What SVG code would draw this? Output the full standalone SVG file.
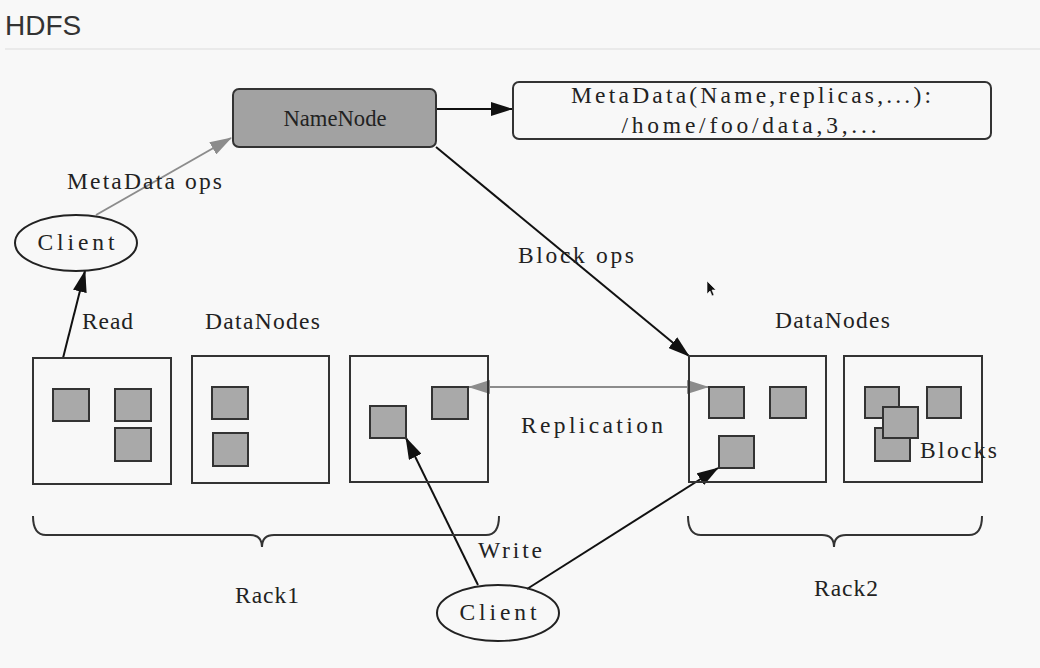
<svg xmlns="http://www.w3.org/2000/svg" width="1040" height="668" viewBox="0 0 1040 668">
<defs>
<style>
.t{font-family:"Liberation Serif","DejaVu Serif",serif;font-size:23.5px;fill:#222}
.tm{text-anchor:middle}
.box{fill:none;stroke:#333;stroke-width:2}
.blk{fill:#a9a9a9;stroke:#333;stroke-width:2}
.ln{fill:none;stroke:#111;stroke-width:2}
.lg{fill:none;stroke:#8c8c8c;stroke-width:2}
.br{fill:none;stroke:#333;stroke-width:2}
</style>
<marker id="ah" viewBox="0 0 22 14" refX="21" refY="7" markerWidth="22" markerHeight="14" orient="auto" markerUnits="userSpaceOnUse"><path d="M0,0 L22,7 L0,14 Z" fill="#111"/></marker>
<marker id="ag" viewBox="0 0 22 14" refX="21" refY="7" markerWidth="22" markerHeight="14" orient="auto-start-reverse" markerUnits="userSpaceOnUse"><path d="M0,0 L22,7 L0,14 Z" fill="#8c8c8c"/></marker>
</defs>
<rect width="1040" height="668" fill="#f8f8f8"/>
<text x="5" y="35" style="font-family:'Liberation Sans',Arial,sans-serif;font-size:28px;fill:#333">HDFS</text>
<line x1="5" y1="49" x2="1040" y2="49" stroke="#dcdcdc" stroke-width="1"/>

<g id="connectors">
<line class="ln" x1="436" y1="109" x2="512" y2="109" marker-end="url(#ah)"/>
<line class="lg" x1="96" y1="215" x2="231" y2="138" marker-end="url(#ag)"/>
<line class="ln" x1="436" y1="147" x2="689" y2="356" marker-end="url(#ah)"/>
<line class="ln" x1="63" y1="358" x2="85" y2="271" marker-end="url(#ah)"/>
<line class="lg" x1="469" y1="387" x2="708" y2="387" marker-start="url(#ag)" marker-end="url(#ag)"/>
<line class="ln" x1="478" y1="585" x2="406" y2="438" marker-end="url(#ah)"/>
<line class="ln" x1="527" y1="589" x2="718" y2="468" marker-end="url(#ah)"/>
</g>

<g id="namenode">
<rect x="233" y="89" width="203" height="58" rx="6" fill="#a2a2a2" stroke="#333" stroke-width="2"/>
<text class="t tm" x="335" y="126" textLength="103" lengthAdjust="spacingAndGlyphs">NameNode</text>
</g>

<g id="metadata">
<rect x="513" y="82" width="478" height="57" rx="6" fill="none" stroke="#333" stroke-width="2"/>
<text class="t tm" x="751" y="103" textLength="360" lengthAdjust="spacing">MetaData(Name,replicas,...):</text>
<text class="t tm" x="749" y="133" textLength="255" lengthAdjust="spacing">/home/foo/data,3,...</text>
</g>

<g id="client1">
<ellipse cx="76" cy="243" rx="61" ry="28" fill="none" stroke="#222" stroke-width="2"/>
<text class="t tm" x="76" y="250" textLength="77" lengthAdjust="spacing">Client</text>
</g>

<g id="client2">
<ellipse cx="498" cy="613" rx="61" ry="28" fill="none" stroke="#222" stroke-width="2"/>
<text class="t tm" x="498" y="620" textLength="77" lengthAdjust="spacing">Client</text>
</g>

<g id="datanode1">
<rect class="box" x="33" y="358" width="138" height="126"/>
<rect class="blk" x="53" y="389" width="36" height="32"/>
<rect class="blk" x="115" y="389" width="36" height="32"/>
<rect class="blk" x="115" y="428" width="36" height="33"/>
</g>
<g id="datanode2">
<rect class="box" x="192" y="356" width="137" height="127"/>
<rect class="blk" x="212" y="387" width="36" height="32"/>
<rect class="blk" x="213" y="433" width="35" height="33"/>
</g>
<g id="datanode3">
<rect class="box" x="350" y="356" width="138" height="126"/>
<rect class="blk" x="370" y="406" width="36" height="32"/>
<rect class="blk" x="432" y="387" width="36" height="32"/>
</g>
<g id="datanode4">
<rect class="box" x="689" y="356" width="137" height="126"/>
<rect class="blk" x="709" y="387" width="35" height="31"/>
<rect class="blk" x="770" y="387" width="36" height="31"/>
<rect class="blk" x="719" y="436" width="35" height="32"/>
</g>
<g id="datanode5">
<rect class="box" x="844" y="356" width="138" height="126"/>
<rect class="blk" x="865" y="387" width="34" height="31"/>
<rect class="blk" x="875" y="428" width="35" height="33"/>
<rect class="blk" x="883" y="407" width="35" height="31"/>
<rect class="blk" x="927" y="387" width="34" height="31"/>
</g>

<g id="labels">
<text class="t" x="67" y="189" textLength="155" lengthAdjust="spacing">MetaData ops</text>
<text class="t" x="518" y="263" textLength="116" lengthAdjust="spacing">Block ops</text>
<text class="t" x="82" y="329" textLength="51" lengthAdjust="spacing">Read</text>
<text class="t" x="205" y="329" textLength="115" lengthAdjust="spacing">DataNodes</text>
<text class="t" x="775" y="328" textLength="115" lengthAdjust="spacing">DataNodes</text>
<text class="t" x="521" y="433" textLength="142" lengthAdjust="spacing">Replication</text>
<text class="t" x="920" y="458" textLength="77" lengthAdjust="spacing">Blocks</text>
<text class="t" x="478" y="558" textLength="64" lengthAdjust="spacing">Write</text>
<text class="t tm" x="267" y="603" textLength="64" lengthAdjust="spacing">Rack1</text>
<text class="t tm" x="846" y="596" textLength="64" lengthAdjust="spacing">Rack2</text>
</g>

<g id="racks">
<path class="br" d="M33,516 Q33,535 46,535 L250,535 Q262,535 262,547 Q262,535 274,535 L486,535 Q499,535 499,516"/>
<path class="br" d="M688,516 Q688,535 701,535 L822,535 Q834,535 834,547 Q834,535 846,535 L969,535 Q982,535 982,516"/>
</g>

<path d="M707,281 L707,294 L710,291 L712,296 L714,295 L712,290 L716,290 Z" fill="#111" stroke="#fff" stroke-width="0.6"/>
</svg>
